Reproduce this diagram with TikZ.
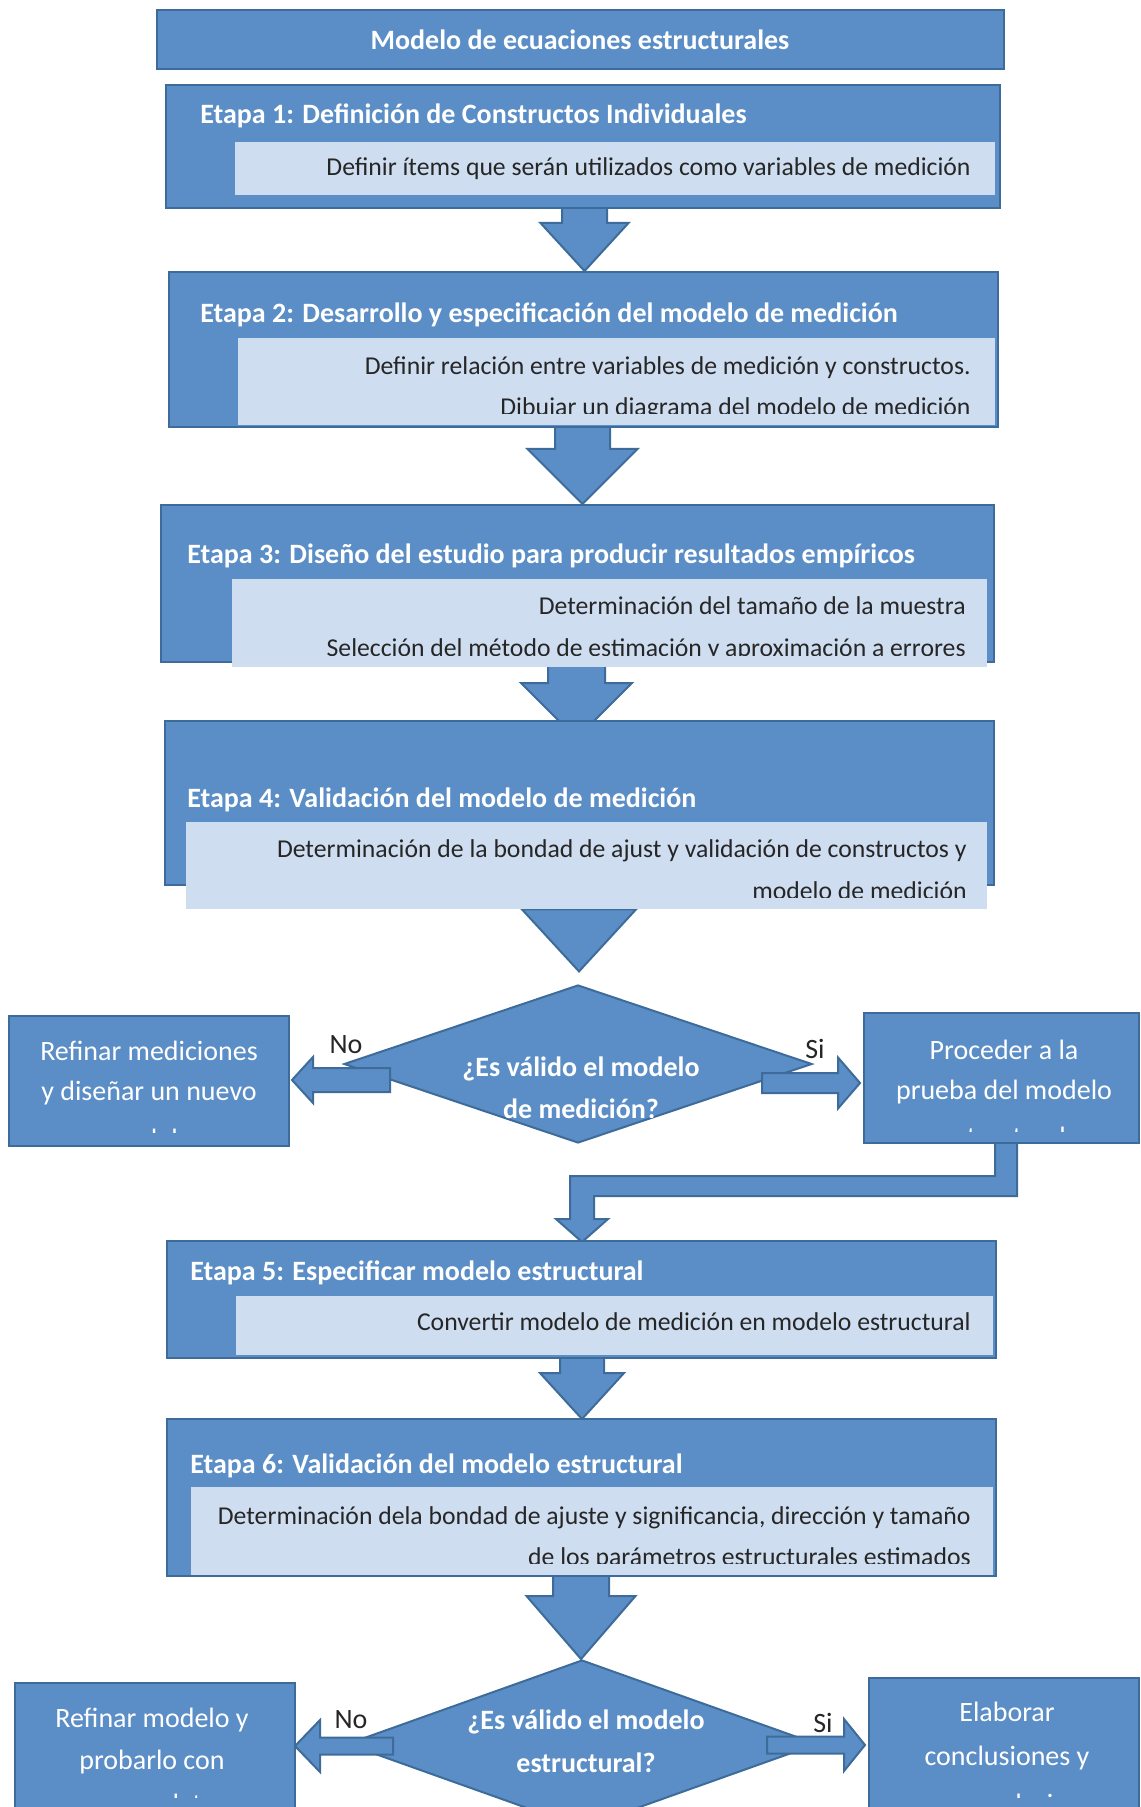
\documentclass[tikz,border=0pt]{standalone}
\usepackage{fontspec}
\setmainfont{Carlito}
\usetikzlibrary{shapes.geometric,calc,fit,backgrounds}

\definecolor{stepblue}{RGB}{91,142,198}
\definecolor{stepedge}{RGB}{62,108,154}
\definecolor{steplight}{RGB}{206,221,240}
\definecolor{bodytext}{RGB}{38,38,38}

\tikzset{
  outerbox/.style={rectangle, fill=stepblue, draw=stepedge, line width=1pt, inner sep=0pt},
  innerbox/.style={rectangle, fill=steplight, draw=none, inner sep=0pt},
  qbox/.style={diamond, fill=stepblue, draw=stepedge, line width=1pt, inner sep=0pt},
  blk/.style={fill=stepblue, draw=stepedge, line width=1pt, line join=miter},
  titletxt/.style={font=\fontsize{14}{17}\selectfont\bfseries, text=white, inner sep=0pt, anchor=base},
  headtxt/.style={font=\fontsize{14}{17}\selectfont\bfseries, text=white, inner sep=0pt, anchor=base west},
  bodytxt/.style={font=\fontsize{12.85}{15}\selectfont, text=bodytext, inner sep=0pt, anchor=base east},
  sidetxt/.style={font=\fontsize{14}{17}\selectfont, text=white, inner sep=0pt, anchor=base},
  qtxt/.style={font=\fontsize{14}{17}\selectfont\bfseries, text=white, inner sep=0pt, anchor=base},
  yntxt/.style={font=\fontsize{14}{17}\selectfont, text=bodytext, inner sep=0pt, anchor=base},
}

% block arrow pointing down: #1 top centre of shaft, #2 shaft half width,
% #3 shaft length, #4 head half width, #5 head length
\newcommand\blockdown[5]{%
  \draw[blk] ($(#1)+(-#2,0)$) -- ++(0,#3) -- ++(#2-#4,0) -- ++(#4,#5)
    -- ++(#4,-#5) -- ++(#2-#4,0) -- ++(0,-#3) -- cycle;}
% block arrows pointing left / right: #1 tail centre, #2 shaft half height,
% #3 shaft length, #4 head half height, #5 head length
\newcommand\blockleft[5]{%
  \draw[blk] ($(#1)+(0,-#2)$) -- ++(-#3,0) -- ++(0,#2-#4) -- ++(-#5,#4)
    -- ++(#5,#4) -- ++(0,#2-#4) -- ++(#3,0) -- cycle;}
\newcommand\blockright[5]{%
  \draw[blk] ($(#1)+(0,-#2)$) -- ++(#3,0) -- ++(0,#2-#4) -- ++(#5,#4)
    -- ++(-#5,#4) -- ++(0,#2-#4) -- ++(-#3,0) -- cycle;}

\begin{document}
\begin{tikzpicture}[x=0.5pt,y=-0.5pt]
\useasboundingbox (0,0) rectangle (1140,1807);

% ---- title ----
\node[outerbox, fit={(157,10) (1004,69)}] (ttl) {};
\node[titletxt] (ttlT) at (580,50) {Modelo de ecuaciones estructurales};

% ---- stage 1 ----
\node[outerbox, fit={(166,85) (1000,208)}] (e1) {};
\node[innerbox, fit={(235,142) (995,195)}] (i1) {};
\node[headtxt] (h1) at (200,124) {Etapa 1: Definición de Constructos Individuales};
\node[bodytxt] (t1a) at (971,176) {Definir ítems que serán utilizados como variables de medición};

% ---- stage 2 ----
\node[outerbox, fit={(169,272) (998,427)}] (e2) {};
\node[innerbox, fit={(238,338) (995,425)}] (i2) {};
\node[headtxt] (h2) at (200,323) {Etapa 2: Desarrollo y especificación del modelo de medición};
\begin{scope}
  \clip (i2.north west) rectangle ($(i2.south east)+(0,-12)$);
  \node[bodytxt] (t2a) at (971,375) {Definir relación entre variables de medición y constructos.};
  \node[bodytxt] (t2b) at (971,416) {Dibujar un diagrama del modelo de medición};
\end{scope}

% ---- stage 3 ----
\node[outerbox, fit={(161,505) (994,662)}] (e3) {};
\node[innerbox, fit={(232,579) (987,667)}] (i3) {};
\node[headtxt] (h3) at (187,564) {Etapa 3: Diseño del estudio para producir resultados empíricos};
\begin{scope}
  \clip (i3.north west) rectangle ($(i3.south east)+(0,-12)$);
  \node[bodytxt] (t3a) at (966,614) {Determinación del tamaño de la muestra};
  \node[bodytxt] (t3b) at (966,656) {Selección del método de estimación y aproximación a errores};
\end{scope}

% ---- stage 4 ----
\node[outerbox, fit={(165,721) (994,885)}] (e4) {};
\node[innerbox, fit={(186,822) (987,909)}] (i4) {};
\node[headtxt] (h4) at (187,807) {Etapa 4: Validación del modelo de medición};
\begin{scope}
  \clip (i4.north west) rectangle ($(i4.south east)+(0,-12)$);
  \node[bodytxt] (t4a) at (967,857) {Determinación de la bondad de ajust y validación de constructos y};
  \node[bodytxt] (t4b) at (967,899) {modelo de medición};
\end{scope}

% ---- first decision ----
\node[qbox, minimum width=234pt, minimum height=79pt] (q1) at (578,1064) {};
\node[qtxt] (q1a) at (581,1076) {¿Es válido el modelo};
\node[qtxt] (q1b) at (581,1118) {de medición?};

\node[outerbox, fit={(9,1016) (289,1146)}] (lb1) {};
\begin{scope}
  \clip (lb1.north west) rectangle ($(lb1.south east)+(0,-15)$);
  \node[sidetxt] (l1a) at (149,1060) {Refinar mediciones};
  \node[sidetxt] (l1b) at (149,1100) {y diseñar un nuevo};
  \node[sidetxt] (l1c) at (149,1148) {modelo};
\end{scope}

\node[outerbox, fit={(864,1013) (1139,1143)}] (rb1) {};
\begin{scope}
  \clip (rb1.north west) rectangle ($(rb1.south east)+(0,-13)$);
  \node[sidetxt] (r1a) at (1004,1059) {Proceder a la};
  \node[sidetxt] (r1b) at (1004,1099) {prueba del modelo};
  \node[sidetxt] (r1c) at (1004,1146) {estructural};
\end{scope}

\coordinate (no1) at ($(q1.center)+(-188,16)$);
\coordinate (si1) at ($(q1.center)+(184,19)$);
\blockleft{no1}{12}{77}{23}{21}
\blockright{si1}{10}{76}{25.5}{22}
\node[yntxt] (no1t) at (346,1053) {No};
\node[yntxt] (si1t) at (815,1058) {Si};

% ---- stage 5 ----
\node[outerbox, fit={(167,1241) (996,1358)}] (e5) {};
\node[innerbox, fit={(236,1296) (993,1355)}] (i5) {};
\node[headtxt] (h5) at (190,1280) {Etapa 5: Especificar modelo estructural};
\node[bodytxt] (t5a) at (971,1330) {Convertir modelo de medición en modelo estructural};

% ---- stage 6 ----
\node[outerbox, fit={(167,1419) (996,1576)}] (e6) {};
\node[innerbox, fit={(191,1487) (993,1575)}] (i6) {};
\node[headtxt] (h6) at (190,1473) {Etapa 6: Validación del modelo estructural};
\begin{scope}
  \clip (i6.north west) rectangle ($(i6.south east)+(0,-12)$);
  \node[bodytxt] (t6a) at (971,1524) {Determinación dela bondad de ajuste y significancia, dirección y tamaño};
  \node[bodytxt] (t6b) at (971,1565) {de los parámetros estructurales estimados};
\end{scope}

% ---- second decision ----
\node[qbox, minimum width=235pt, minimum height=84pt] (q2) at (582,1744) {};
\node[qtxt] (q2a) at (586,1729) {¿Es válido el modelo};
\node[qtxt] (q2b) at (586,1772) {estructural?};

\node[outerbox, fit={(15,1683) (295,1812)}] (lb2) {};
\begin{scope}
  \clip (lb2.north west) rectangle ($(lb2.south east)+(0,-16)$);
  \node[sidetxt] (l2a) at (152,1727) {Refinar modelo y};
  \node[sidetxt] (l2b) at (152,1769) {probarlo con};
  \node[sidetxt] (l2c) at (152,1813) {nuevos datos};
\end{scope}

\node[outerbox, fit={(869,1678) (1139,1812)}] (rb2) {};
\begin{scope}
  \clip (rb2.north west) rectangle ($(rb2.south east)+(0,-16)$);
  \node[sidetxt] (r2a) at (1007,1721) {Elaborar};
  \node[sidetxt] (r2b) at (1007,1765) {conclusiones y};
  \node[sidetxt] (r2c) at (1007,1813) {recomendaciones};
\end{scope}

\coordinate (no2) at ($(q2.center)+(-189,2)$);
\coordinate (si2) at ($(q2.center)+(185,1)$);
\blockleft{no2}{8.5}{73}{26}{25}
\blockright{si2}{8.5}{77}{26}{21}
\node[yntxt] (no2t) at (351,1728) {No};
\node[yntxt] (si2t) at (823,1732) {Si};

% ---- flow arrows between stages (behind the boxes) ----
\begin{scope}[on background layer]
  \fill[white] (0,0) rectangle (1140,1807);
  \coordinate (a1) at ($(e1.south)+(1.5,-8)$);
  \coordinate (a2) at ($(e2.south)+(-1,-7)$);
  \coordinate (a3) at ($(e3.south)+(-1,-2)$);
  \coordinate (a5) at ($(e5.south)+(0.5,-8)$);
  \coordinate (a6) at ($(e6.south)+(-0.5,-6)$);
  \blockdown{a1}{22.5}{22}{44}{48}
  \blockdown{a2}{27.5}{28}{55}{55}
  \blockdown{a3}{28.5}{22}{55.5}{55.5}
  \blockdown{a5}{22}{22}{42}{46}
  \blockdown{a6}{28}{25}{54.5}{63}
  % triangle from stage 4 into the first decision
  \coordinate (a4) at ($(i4.south)+(-7.5,0)$);
  \draw[blk] ($(a4)+(-57,0)$) -- ++(114,0) -- ++(-57,62) -- cycle;
  % bent arrow from the right-hand box down to stage 5
  \coordinate (b0) at ($(rb1.south)+(15.5,-3)$);
  \draw[blk] (b0) -- ++(0,55) -- ++(-423,0) -- ++(0,23) -- ++(14,0)
    -- ++(-26,23) -- ++(-26,-23) -- ++(14,0) -- ++(0,-43) -- ++(425,0)
    -- ++(0,-35) -- cycle;
\end{scope}
\end{tikzpicture}
\end{document}
